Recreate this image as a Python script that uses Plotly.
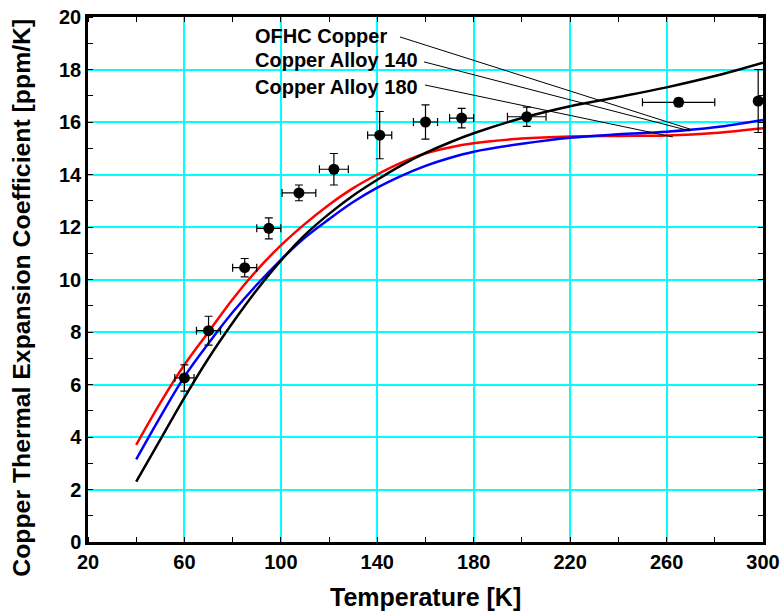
import plotly.graph_objects as go

# Model curves (temperature in K, CTE in ppm/K)
T_curve = [40, 50, 60, 70, 80, 90, 100, 110, 120, 130, 140, 150, 160, 170, 180, 200, 220, 240, 260, 280, 300]
ofhc = [2.3, 3.9, 5.5, 7.0, 8.35, 9.6, 10.72, 11.7, 12.5, 13.2, 13.8, 14.35, 14.82, 15.22, 15.57, 16.15, 16.6, 16.95, 17.32, 17.75, 18.26]
alloy140 = [3.15, 4.77, 6.3, 7.57, 8.75, 9.8, 10.75, 11.6, 12.3, 12.95, 13.5, 13.95, 14.33, 14.63, 14.87, 15.17, 15.4, 15.53, 15.63, 15.8, 16.08]
alloy180 = [3.7, 5.3, 6.75, 8.0, 9.25, 10.35, 11.3, 12.12, 12.85, 13.48, 14.0, 14.45, 14.8, 15.03, 15.19, 15.37, 15.45, 15.47, 15.49, 15.58, 15.76]

# Measured points with error bars
T_meas = [60, 70, 85, 95, 107.5, 122, 141, 160, 175, 202, 265, 298]
cte_meas = [6.25, 8.05, 10.45, 11.95, 13.3, 14.2, 15.5, 16.0, 16.15, 16.2, 16.75, 16.8]
T_err = [4, 5, 5, 5, 7, 6, 5, 5, 5, 8, 15, 0]
cte_err = [0.5, 0.55, 0.35, 0.4, 0.3, 0.6, 0.9, 0.65, 0.37, 0.37, 0.15, 1.2]

x_ticks = [20, 60, 100, 140, 180, 220, 260, 300]
y_ticks = [0, 2, 4, 6, 8, 10, 12, 14, 16, 18, 20]

labels = ["OFHC Copper", "Copper Alloy 140", "Copper Alloy 180"]
label_T = [88.4, 88.4, 88.4]
label_y = [19.28, 18.36, 17.32]
leader_start_T = [149.4, 159.4, 159.8]
leader_start_y = [19.24, 18.29, 17.41]
leader_end_T = [269.7, 269.7, 262.6]
leader_end_y = [15.73, 15.66, 15.43]

FONT = "Liberation Sans, Arial, sans-serif"

fig = go.Figure()
fig.add_trace(go.Scatter(x=T_curve, y=alloy180, mode="lines", line=dict(color="#ff0000", width=2.5, shape="spline"), showlegend=False))
fig.add_trace(go.Scatter(x=T_curve, y=alloy140, mode="lines", line=dict(color="#0000ff", width=2.5, shape="spline"), showlegend=False))
fig.add_trace(go.Scatter(x=T_curve, y=ofhc, mode="lines", line=dict(color="#000000", width=2.5, shape="spline"), showlegend=False))
fig.add_trace(go.Scatter(
    x=T_meas, y=cte_meas, mode="markers",
    marker=dict(color="black", size=11),
    error_x=dict(type="data", array=T_err, color="black", thickness=1.2, width=4),
    error_y=dict(type="data", array=cte_err, color="black", thickness=1.2, width=4),
    showlegend=False, cliponaxis=False))

for i in range(3):
    fig.add_shape(type="line", xref="x", yref="y",
                  x0=leader_start_T[i], y0=leader_start_y[i], x1=leader_end_T[i], y1=leader_end_y[i],
                  line=dict(color="black", width=1))
    fig.add_annotation(x=label_T[i], y=label_y[i], xref="x", yref="y", text=labels[i],
                       showarrow=False, xanchor="left", yanchor="middle",
                       font=dict(family=FONT, size=20, color="black", weight="bold"))

# axis titles
fig.add_annotation(x=0.5, y=-0.075, xref="paper", yref="paper", xanchor="center", yanchor="top",
                   text="Temperature [K]", showarrow=False,
                   font=dict(family=FONT, size=25, color="black", weight="bold"))
fig.add_annotation(x=-0.098, y=0.465, xref="paper", yref="paper", xanchor="center", yanchor="middle",
                   textangle=-90, text="Copper Thermal Expansion Coefficient [ppm/K]", showarrow=False,
                   font=dict(family=FONT, size=24.8, color="black", weight="bold"))

tickfont = dict(family=FONT, size=20, color="black", weight="bold")

xaxis = dict(
    range=[20, 300], tickmode="array", tickvals=x_ticks, ticktext=[str(v) for v in x_ticks],
    showline=True, linecolor="black", linewidth=2.5, mirror=True,
    showgrid=True, gridcolor="#00ffff", gridwidth=1.5, ticks="", zeroline=False,
    tickfont=tickfont, automargin=False,
    minor=dict(dtick=20, tick0=20, ticks="inside", ticklen=5, tickcolor="black", tickwidth=1, showgrid=False))
yaxis = dict(
    range=[0, 20], tickmode="array", tickvals=y_ticks, ticktext=[str(v) for v in y_ticks],
    showline=True, linecolor="black", linewidth=2.5, mirror=True,
    showgrid=True, gridcolor="#00ffff", gridwidth=1.5, ticks="", zeroline=False,
    tickfont=tickfont, automargin=False,
    minor=dict(dtick=1, tick0=0, ticks="inside", ticklen=5, tickcolor="black", tickwidth=1, showgrid=False))

fig.update_layout(
    width=783, height=616,
    margin=dict(l=88, r=20, t=17, b=74),
    plot_bgcolor="white", paper_bgcolor="white",
    xaxis=xaxis, yaxis=yaxis,
    xaxis2=dict(overlaying="x", side="top", range=[20, 300], tickmode="array", tickvals=x_ticks,
                showticklabels=False, showgrid=False, ticks="", zeroline=False, showline=False,
                automargin=False,
                minor=dict(dtick=20, tick0=20, ticks="inside", ticklen=5, tickcolor="black", tickwidth=1, showgrid=False)),
    yaxis2=dict(overlaying="y", side="right", range=[0, 20], tickmode="array", tickvals=y_ticks,
                showticklabels=False, showgrid=False, ticks="", zeroline=False, showline=False,
                automargin=False,
                minor=dict(dtick=1, tick0=0, ticks="inside", ticklen=5, tickcolor="black", tickwidth=1, showgrid=False)),
)
# invisible trace to anchor overlay axes
fig.add_trace(go.Scatter(x=[T_curve[0]], y=[ofhc[0]], xaxis="x2", yaxis="y2", mode="markers",
                         marker=dict(opacity=0), hoverinfo="skip", showlegend=False))

fig.write_html("out.html")
